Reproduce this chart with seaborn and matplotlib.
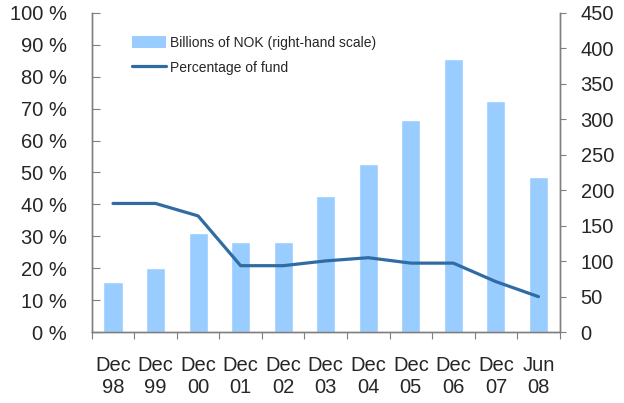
import matplotlib
matplotlib.use("Agg")
import matplotlib.pyplot as plt
from matplotlib.lines import Line2D
from matplotlib.patches import Patch
import numpy as np
import pandas as pd
import seaborn as sns

# Data
periods = ["Dec\n98", "Dec\n99", "Dec\n00", "Dec\n01", "Dec\n02", "Dec\n03",
           "Dec\n04", "Dec\n05", "Dec\n06", "Dec\n07", "Jun\n08"]
billions_nok = [70, 90, 140, 127, 127, 192, 237, 299, 385, 326, 219]
pct_of_fund = [40.3, 40.3, 36.4, 20.8, 20.8, 22.3, 23.3, 21.6, 21.6, 15.8, 11.1]

BAR_COLOR = "#99CCFF"
LINE_COLOR = "#2F6CA3"
SPINE_COLOR = "#7f7f7f"
FS = 14.5

sns.set_style("white")
plt.rcParams["font.family"] = ["Liberation Sans", "DejaVu Sans"]

df = pd.DataFrame({"period": periods, "nok": billions_nok, "pct": pct_of_fund,
                   "pos": np.arange(len(periods))})

fig = plt.figure(figsize=(6.24, 4.03), dpi=100)
ax = fig.add_axes([0.147, 0.176, 0.75, 0.792])

# bars on the primary axes (shown on the right) so the line sits on top
sns.barplot(data=df, x="period", y="nok", color=BAR_COLOR, width=0.45,
            saturation=1, ax=ax)
ax.set_ylim(0, 450)
ax.set_yticks(range(0, 451, 50))

ax2 = ax.twinx()
sns.lineplot(data=df, x="pos", y="pct", color=LINE_COLOR, linewidth=2.3, ax=ax2)
ax2.set_ylim(0, 100)
ax2.set_yticks(range(0, 101, 10))
ax2.set_yticklabels([f"{v} %" for v in range(0, 101, 10)])

# swap sides: bar scale on the right, percentage scale on the left
ax.yaxis.tick_right()
ax2.yaxis.tick_left()

for a in (ax, ax2):
    a.set_xlabel("")
    a.set_ylabel("")
    a.set_xlim(-0.5, len(periods) - 0.5)
    a.spines["top"].set_visible(False)
    for s in ("left", "right", "bottom"):
        a.spines[s].set_color(SPINE_COLOR)
        a.spines[s].set_linewidth(1.0)

# category boundaries as tick marks, labels centred on the bars
ax.set_xticks(np.arange(-0.5, len(periods), 1.0))
ax.set_xticklabels([])
ax.set_xticks(np.arange(len(periods)), minor=True)
ax.set_xticklabels(periods, minor=True, fontsize=FS, linespacing=1.2)
ax.tick_params(axis="x", which="major", direction="out", length=5,
               color=SPINE_COLOR, bottom=True)
ax.tick_params(axis="x", which="minor", length=0, pad=17)

ax.tick_params(axis="y", direction="out", length=4, color=SPINE_COLOR,
               labelsize=FS, pad=11, right=True, left=False,
               labelright=True, labelleft=False)
ax2.tick_params(axis="y", direction="in", length=6, color=SPINE_COLOR,
                labelsize=FS, pad=18, left=True, right=False,
                labelleft=True, labelright=False)
ax2.tick_params(axis="x", bottom=False, labelbottom=False)

handles = [Patch(facecolor=BAR_COLOR, edgecolor="none"),
           Line2D([0], [0], color=LINE_COLOR, linewidth=2.3)]
fig.legend(handles, ["Billions of NOK (right-hand scale)", "Percentage of fund"],
           loc="upper left", bbox_to_anchor=(0.202, 0.925), frameon=False,
           fontsize=10, handlelength=2.5, handleheight=1.0, handletextpad=0.3,
           labelspacing=0.8, borderaxespad=0)

fig.savefig("out.png", dpi=100)
